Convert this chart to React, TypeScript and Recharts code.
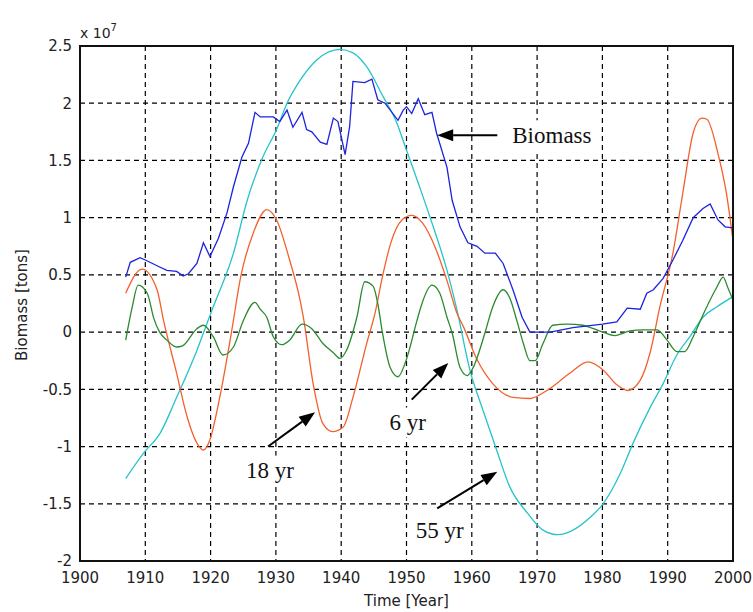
import { LineChart, Line, XAxis, YAxis, CartesianGrid } from "recharts";

// values are in units of 10^7 tons
const biomassYears = [1907, 1907.7, 1909.2, 1910, 1911.8, 1913.3, 1914.8, 1915.8, 1916.6, 1917.9, 1918.9, 1919.9, 1921.2, 1922.5, 1923.5, 1924.8, 1925.8, 1926.8, 1927.6, 1929.6, 1930.6, 1931.7, 1932.6, 1934, 1934.7, 1935.5, 1936.8, 1937.8, 1938.8, 1939.5, 1940.6, 1941.3, 1941.8, 1943.6, 1944.7, 1945.6, 1946.7, 1948.7, 1949.5, 1950, 1950.8, 1951.8, 1952.8, 1953.9, 1954.6, 1956.2, 1957, 1958.2, 1959.4, 1960.8, 1962, 1963.6, 1964.8, 1966.3, 1967.7, 1968.9, 1972, 1975.5, 1980, 1982.2, 1983.8, 1985.8, 1986.8, 1987.8, 1989.3, 1990.8, 1992.3, 1993.9, 1995.4, 1996.5, 1997.7, 1998.8, 2000];
const biomassValues = [0.48, 0.61, 0.65, 0.63, 0.58, 0.54, 0.53, 0.49, 0.51, 0.6, 0.78, 0.66, 0.82, 1.04, 1.27, 1.53, 1.65, 1.92, 1.88, 1.88, 1.84, 1.94, 1.79, 1.92, 1.77, 1.75, 1.66, 1.64, 1.87, 1.84, 1.55, 1.8, 2.19, 2.18, 2.21, 2.03, 2.0, 1.85, 1.94, 1.97, 1.91, 2.04, 1.9, 1.92, 1.74, 1.44, 1.15, 0.92, 0.78, 0.75, 0.69, 0.69, 0.6, 0.37, 0.13, 0.0, 0.0, 0.04, 0.07, 0.09, 0.21, 0.2, 0.34, 0.37, 0.47, 0.63, 0.8, 1.0, 1.08, 1.12, 0.98, 0.92, 0.91];

const yr55Years = [1907, 1909.7, 1912.3, 1914.8, 1917.9, 1919.6, 1920.4, 1923.5, 1925.6, 1928, 1930.1, 1931.7, 1933.7, 1936.3, 1939.8, 1941.8, 1943.9, 1946.4, 1948.5, 1950, 1952, 1954.1, 1956.2, 1957.7, 1959.7, 1961.7, 1963.8, 1965.8, 1968.5, 1970.9, 1973.2, 1975.5, 1978.1, 1980.1, 1982.7, 1984.7, 1987.3, 1989.3, 1991.4, 1993.4, 1995.4, 1997.5, 2000];
const yr55Values = [-1.28, -1.06, -0.88, -0.57, -0.16, 0.1, 0.22, 0.69, 1.15, 1.53, 1.77, 2.0, 2.2, 2.38, 2.47, 2.44, 2.32, 2.06, 1.83, 1.59, 1.27, 0.92, 0.54, 0.2, -0.33, -0.68, -1.03, -1.35, -1.58, -1.73, -1.77, -1.73, -1.62, -1.5, -1.24, -0.97, -0.66, -0.45, -0.2, -0.04, 0.13, 0.22, 0.31];

const yr18Years = [1907, 1909.5, 1911.8, 1912.8, 1914.8, 1916.4, 1917.9, 1918.9, 1919.9, 1921.4, 1923.2, 1924.6, 1926.5, 1928.6, 1930.1, 1932.1, 1933.7, 1934.2, 1935.7, 1937.2, 1938.7, 1940.3, 1941.8, 1943.9, 1945.2, 1946.3, 1947.6, 1949.3, 1950.8, 1952.5, 1954.4, 1956.2, 1957.7, 1958.7, 1960.8, 1963.2, 1966.3, 1968.9, 1971.5, 1975, 1977.8, 1980.1, 1982.2, 1983.9, 1985.8, 1987.3, 1988.8, 1990.8, 1992.3, 1993.9, 1995.2, 1996, 1997.7, 1999, 2000];
const yr18Values = [0.34, 0.55, 0.37, 0.1, -0.36, -0.74, -0.97, -1.03, -0.94, -0.57, 0.0, 0.48, 0.86, 1.07, 0.98, 0.63, 0.28, 0.13, -0.45, -0.8, -0.87, -0.83, -0.57, -0.1, 0.17, 0.48, 0.78, 0.98, 1.02, 0.95, 0.74, 0.45, 0.17, 0.05, -0.24, -0.45, -0.57, -0.58, -0.51, -0.36, -0.26, -0.33, -0.46, -0.51, -0.42, -0.18, 0.22, 0.69, 1.21, 1.74, 1.87, 1.86, 1.56, 1.21, 0.8];

const yr6Years = [1907, 1908, 1908.9, 1910.3, 1911.3, 1912.2, 1913.3, 1914.8, 1915.7, 1917.9, 1918.9, 1920.4, 1921.9, 1923.5, 1925, 1926.8, 1927.6, 1928.6, 1929.6, 1930.9, 1932.1, 1934, 1935.5, 1937.2, 1938.8, 1939.8, 1940.8, 1942.4, 1943.6, 1944.9, 1945.6, 1946.3, 1947.5, 1948.7, 1949.8, 1951.6, 1952.2, 1953.9, 1955.1, 1956.2, 1957, 1958.2, 1959.3, 1960.2, 1962, 1963.2, 1964.8, 1965.8, 1966.9, 1967.9, 1968.9, 1969.7, 1970.9, 1972.4, 1974.6, 1977, 1978.6, 1980.1, 1981.9, 1984.2, 1986.2, 1988.4, 1989.9, 1991.4, 1992.6, 1993.9, 1995.4, 1997.5, 1998.5, 1999.2, 2000];
const yr6Values = [-0.07, 0.22, 0.41, 0.34, 0.12, 0.0, -0.07, -0.13, -0.12, 0.03, 0.06, -0.04, -0.2, -0.13, 0.1, 0.26, 0.2, 0.13, -0.04, -0.11, -0.07, 0.07, 0.03, -0.1, -0.18, -0.23, -0.16, 0.13, 0.44, 0.4, 0.25, 0.0, -0.31, -0.39, -0.27, 0.1, 0.22, 0.41, 0.34, 0.13, -0.01, -0.31, -0.38, -0.31, -0.01, 0.22, 0.37, 0.3, 0.1, -0.1, -0.25, -0.25, -0.1, 0.06, 0.07, 0.06, 0.03, 0.0, -0.03, 0.01, 0.02, 0.02, -0.07, -0.17, -0.17, -0.04, 0.15, 0.39, 0.48, 0.39, 0.28];

const xTicks = [1900, 1910, 1920, 1930, 1940, 1950, 1960, 1970, 1980, 1990, 2000];
const yTicks = [-2, -1.5, -1, -0.5, 0, 0.5, 1, 1.5, 2, 2.5];

const toRows = (years: number[], values: number[]) => years.map((year, i) => ({ year, v: values[i] }));

const W = 753;
const H = 612;
const PLOT = { left: 80, top: 46, width: 653, height: 515 };
const px = (yr: number) => PLOT.left + ((yr - 1900) / 100) * PLOT.width;
const py = (v: number) => PLOT.top + ((2.5 - v) / 4.5) * PLOT.height;

const AXIS_FONT = "DejaVu Sans, sans-serif";
const NOTE_FONT = "Liberation Serif, Times New Roman, serif";

function Arrow({ x1, y1, x2, y2 }: { x1: number; y1: number; x2: number; y2: number }) {
  const dx = x2 - x1;
  const dy = y2 - y1;
  const len = Math.sqrt(dx * dx + dy * dy);
  const ux = dx / len;
  const uy = dy / len;
  const head = 16;
  const half = 6;
  const bx = x2 - ux * head;
  const by = y2 - uy * head;
  const pts = `${x2},${y2} ${bx - uy * half},${by + ux * half} ${bx + uy * half},${by - ux * half}`;
  return (
    <g>
      <line x1={x1} y1={y1} x2={bx} y2={by} stroke="#000" strokeWidth={2} />
      <polygon points={pts} fill="#000" />
    </g>
  );
}

function Note({ x, y, text, anchor = "middle", w }: { x: number; y: number; text: string; anchor?: "middle" | "start"; w: number }) {
  const left = anchor === "middle" ? x - w / 2 : x - 4;
  return (
    <g>
      <rect x={left} y={y - 15} width={w} height={30} fill="#fff" />
      <text x={x} y={y} textAnchor={anchor} dominantBaseline="central" fontFamily={NOTE_FONT} fontSize={23} fill="#111">
        {text}
      </text>
    </g>
  );
}

export default function App() {
  return (
    <div style={{ position: "absolute", left: 0, top: 0, width: W, height: H, background: "#fff" }}>
      <LineChart width={W} height={H} margin={{ top: PLOT.top, right: W - PLOT.left - PLOT.width, bottom: 0, left: 0 }}>
        <CartesianGrid stroke="#000" strokeDasharray="5 4" strokeWidth={1.2} verticalPoints={xTicks.slice(1, -1).map(px)} horizontalPoints={yTicks.slice(1, -1).map(py)} />
        <XAxis
          type="number"
          dataKey="year"
          domain={[1900, 2000]}
          ticks={xTicks}
          allowDataOverflow
          height={H - PLOT.top - PLOT.height}
          tickSize={0}
          tickMargin={11}
          axisLine={false}
          tick={{ fill: "#222", fontSize: 15, fontFamily: AXIS_FONT }}
        />
        <YAxis
          type="number"
          domain={[-2, 2.5]}
          ticks={yTicks}
          allowDataOverflow
          width={PLOT.left}
          tickSize={0}
          tickMargin={8}
          axisLine={false}
          tick={{ fill: "#222", fontSize: 15, fontFamily: AXIS_FONT }}
        />
        <Line type="monotone" data={toRows(yr55Years, yr55Values)} dataKey="v" stroke="#26c3c9" strokeWidth={1.3} dot={false} isAnimationActive={false} />
        <Line type="monotone" data={toRows(yr18Years, yr18Values)} dataKey="v" stroke="#f4602c" strokeWidth={1.3} dot={false} isAnimationActive={false} />
        <Line type="monotone" data={toRows(yr6Years, yr6Values)} dataKey="v" stroke="#2a8a2e" strokeWidth={1.3} dot={false} isAnimationActive={false} />
        <Line type="linear" data={toRows(biomassYears, biomassValues)} dataKey="v" stroke="#1c22e0" strokeWidth={1.3} dot={false} isAnimationActive={false} />
      </LineChart>
      <svg width={W} height={H} style={{ position: "absolute", left: 0, top: 0, pointerEvents: "none" }}>
        <rect x={PLOT.left} y={PLOT.top} width={PLOT.width} height={PLOT.height} fill="none" stroke="#111" strokeWidth={2} />
        <text x={PLOT.left} y={38} fontFamily={AXIS_FONT} fontSize={14} fill="#222">
          x 10<tspan dy={-7} fontSize={10}>7</tspan>
        </text>
        <text x={22} y={305} transform="rotate(-90 22 305)" textAnchor="middle" dominantBaseline="central" fontFamily={AXIS_FONT} fontSize={15} fill="#222">
          Biomass [tons]
        </text>
        <text x={PLOT.left + PLOT.width / 2} y={601} textAnchor="middle" dominantBaseline="central" fontFamily={AXIS_FONT} fontSize={15} fill="#222">
          Time [Year]
        </text>

        <Note x={px(1966.2)} y={py(1.72)} text="Biomass" anchor="start" w={92} />
        <Arrow x1={px(1963.9)} y1={py(1.72)} x2={px(1954.7)} y2={py(1.72)} />

        <Note x={px(1929.1)} y={py(-1.21)} text="18 yr" w={60} />
        <Arrow x1={px(1928.8)} y1={py(-1.0)} x2={px(1936)} y2={py(-0.7)} />

        <Note x={px(1950.2)} y={py(-0.79)} text="6 yr" w={50} />
        <Arrow x1={px(1950.8)} y1={py(-0.59)} x2={px(1956.4)} y2={py(-0.27)} />

        <Note x={px(1955.1)} y={py(-1.73)} text="55 yr" w={60} />
        <Arrow x1={px(1954.7)} y1={py(-1.54)} x2={px(1963.9)} y2={py(-1.22)} />
      </svg>
    </div>
  );
}
